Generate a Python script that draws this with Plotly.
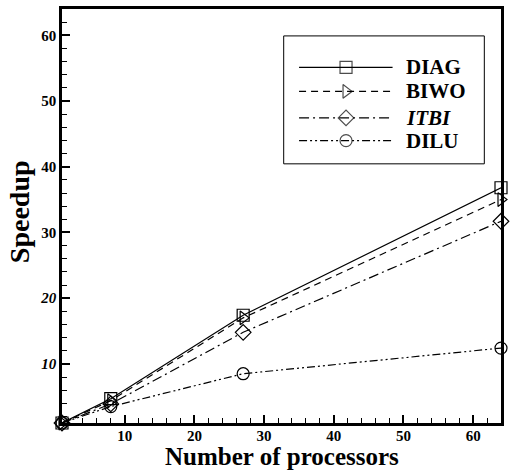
import plotly.graph_objects as go

procs = [1, 8, 27, 64]
DIAG = [1, 4.7, 17.4, 36.8]
BIWO = [1, 4.4, 17.0, 35.0]
ITBI = [1, 3.9, 14.8, 31.7]
DILU = [1, 3.5, 8.5, 12.4]

names = ["DIAG", "BIWO", "ITBI", "DILU"]
labels = ["<b>DIAG</b>", "<b>BIWO</b>", "<b><i>ITBI</i></b>", "<b>DILU</b>"]
series = [DIAG, BIWO, ITBI, DILU]
symbols = ["square-open", "triangle-right-open", "diamond-open", "circle-open"]
dashes = ["solid", "7px,5px", "10px,4px,2px,4px", "8px,3px,2px,3px,2px,3px"]

x_tickvals = [10, 20, 30, 40, 50, 60]
x_ticktext = ["10", "20", "30", "40", "50", "60"]
y_tickvals = [10, 20, 30, 40, 50, 60]
y_ticktext = ["<i>10</i>", "<i>20</i>", "30", "40", "50", "60"]

fig = go.Figure()
for n, s, sym, d in zip(names, series, symbols, dashes):
    fig.add_trace(go.Scatter(
        x=procs, y=s, name=n, mode="lines+markers",
        line=dict(color="black", width=1.2, dash=d),
        marker=dict(symbol=sym, size=12, color="black", line=dict(width=1.2, color="black")),
        cliponaxis=False, showlegend=False))

# custom legend (drawn on hidden overlay axes)
leg_y = [0.859, 0.801, 0.737, 0.682]
for lab, sym, d, ly in zip(labels, symbols, dashes, leg_y):
    fig.add_trace(go.Scatter(
        x=[0.54, 0.647, 0.753], y=[ly, ly, ly], mode="lines+markers",
        line=dict(color="black", width=1.2, dash=d),
        marker=dict(symbol=sym, size=[0, 12, 0], color="black", line=dict(width=1.2, color="black")),
        xaxis="x2", yaxis="y2", showlegend=False, hoverinfo="skip"))
    fig.add_annotation(x=0.78, y=ly, xref="paper", yref="paper", text=lab,
                       showarrow=False, xanchor="left", yanchor="middle",
                       font=dict(family="Liberation Serif", size=21, color="black"))

fig.add_shape(type="rect", xref="paper", yref="paper", x0=0.505, x1=0.962, y0=0.626, y1=0.935,
              line=dict(color="black", width=1), fillcolor="rgba(0,0,0,0)", layer="below")

# axis titles as annotations for exact placement
fig.add_annotation(x=0.5, y=-0.082, xref="paper", yref="paper", text="<b>Number of processors</b>",
                   showarrow=False, xanchor="center", yanchor="middle",
                   font=dict(family="Liberation Serif", size=25, color="black"))
fig.add_annotation(x=-0.095, y=0.51, xref="paper", yref="paper", text="<b>Speedup</b>",
                   showarrow=False, xanchor="center", yanchor="middle", textangle=-90,
                   font=dict(family="Liberation Serif", size=28, color="black"))

axis_common = dict(
    showline=True, linecolor="black", linewidth=2.5, mirror=True,
    showgrid=False, zeroline=False, ticks="inside", ticklen=8, tickwidth=2, tickcolor="black",
    minor=dict(dtick=2, ticks="inside", ticklen=5, tickwidth=1.2, tickcolor="black"),
    tickfont=dict(family="Liberation Serif", size=15, color="black"),
)

fig.update_layout(
    width=510, height=473,
    margin=dict(l=62, r=6, t=6, b=50),
    paper_bgcolor="white", plot_bgcolor="white",
    xaxis=dict(range=[1, 64], tickvals=x_tickvals, ticklabelstandoff=-3,
               ticktext=["<b>%s</b>" % t for t in x_ticktext],
               **axis_common),
    yaxis=dict(range=[1, 64], tickvals=y_tickvals,
               ticktext=["<b>%s</b>" % t for t in y_ticktext],
               **axis_common),
    xaxis2=dict(range=[0, 1], overlaying="x", visible=False, fixedrange=True),
    yaxis2=dict(range=[0, 1], overlaying="y", visible=False, fixedrange=True),
)

fig.write_html("out.html", config={"displayModeBar": False},
               post_script="document.body.style.margin='0';document.body.style.padding='0';")
